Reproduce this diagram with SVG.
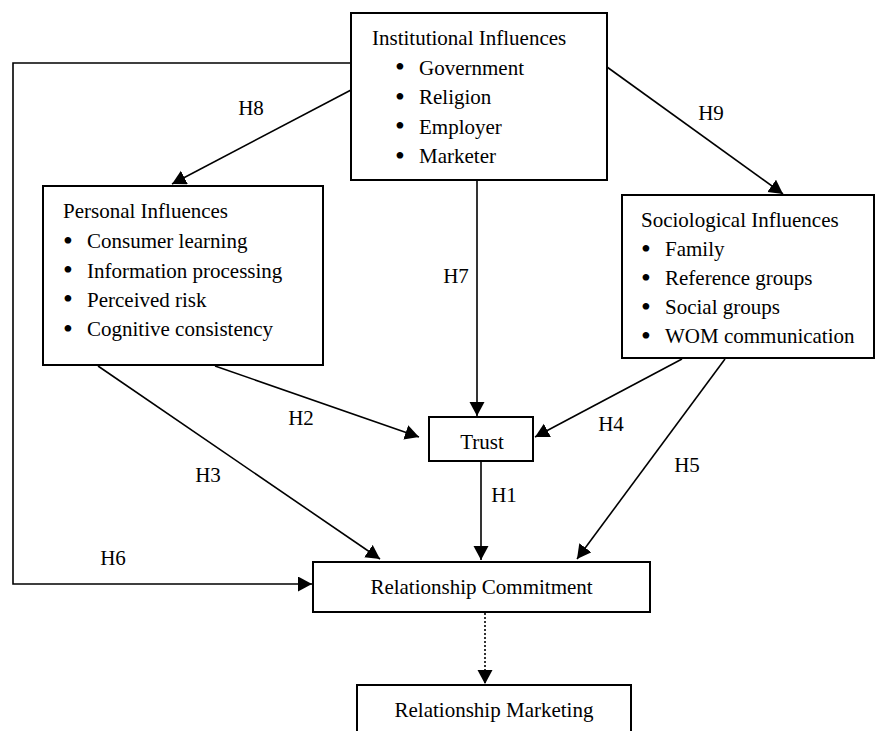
<svg xmlns="http://www.w3.org/2000/svg" width="876" height="731" viewBox="0 0 876 731">
<style>
.box{fill:#fff;stroke:#000;stroke-width:2}
.t{font-family:"Liberation Serif","Times New Roman",serif;font-size:21px;fill:#000}
.c{text-anchor:middle}
.b{font-family:"Liberation Serif","Times New Roman",serif;font-size:28px;fill:#000;text-anchor:middle}
.ln{fill:none;stroke:#000;stroke-width:1.6}
.dot{fill:none;stroke:#000;stroke-width:1.6;stroke-dasharray:2,2}
</style>
<defs>
<marker id="ah" markerUnits="userSpaceOnUse" markerWidth="16" markerHeight="16" refX="14" refY="7.5" orient="auto">
<path d="M0,0 L14,7.5 L0,15 z" fill="#000"/>
</marker>
</defs>
<rect width="876" height="731" fill="#fff"/>
<g id="connectors">
<polyline class="ln" points="351,63 13,63 13,584 312,584" marker-end="url(#ah)"/>
<line class="ln" x1="351" y1="90" x2="172" y2="184" marker-end="url(#ah)"/>
<line class="ln" x1="607" y1="67" x2="783" y2="194" marker-end="url(#ah)"/>
<line class="ln" x1="477" y1="180" x2="477" y2="416" marker-end="url(#ah)"/>
<line class="ln" x1="215" y1="366" x2="419" y2="437" marker-end="url(#ah)"/>
<line class="ln" x1="682" y1="359" x2="535" y2="437" marker-end="url(#ah)"/>
<line class="ln" x1="98" y1="366" x2="380" y2="559" marker-end="url(#ah)"/>
<line class="ln" x1="725" y1="359" x2="577" y2="559" marker-end="url(#ah)"/>
<line class="ln" x1="481" y1="462" x2="481" y2="560" marker-end="url(#ah)"/>
<line class="dot" x1="485" y1="613" x2="485" y2="684" marker-end="url(#ah)"/>
<text class="t c" x="251" y="115">H8</text>
<text class="t c" x="711" y="120">H9</text>
<text class="t c" x="456" y="283">H7</text>
<text class="t c" x="301" y="425">H2</text>
<text class="t c" x="611" y="431">H4</text>
<text class="t c" x="208" y="482">H3</text>
<text class="t c" x="687" y="472">H5</text>
<text class="t c" x="504" y="502">H1</text>
<text class="t c" x="113" y="565">H6</text>
</g>
<g id="institutional">
<rect class="box" x="351" y="13" width="256" height="167"/>
<text class="t" x="372" y="45">Institutional Influences</text>
<text class="b" x="400" y="76">•</text><text class="t" x="419" y="74.5">Government</text>
<text class="b" x="400" y="105.5">•</text><text class="t" x="419" y="104">Religion</text>
<text class="b" x="400" y="135">•</text><text class="t" x="419" y="133.5">Employer</text>
<text class="b" x="400" y="164.5">•</text><text class="t" x="419" y="163">Marketer</text>
</g>
<g id="personal">
<rect class="box" x="43" y="186" width="280" height="179"/>
<text class="t" x="63" y="218">Personal Influences</text>
<text class="b" x="68" y="249.5">•</text><text class="t" x="87" y="248">Consumer learning</text>
<text class="b" x="68" y="279">•</text><text class="t" x="87" y="277.5">Information processing</text>
<text class="b" x="68" y="308">•</text><text class="t" x="87" y="306.5">Perceived risk</text>
<text class="b" x="68" y="337.5">•</text><text class="t" x="87" y="336">Cognitive consistency</text>
</g>
<g id="sociological">
<rect class="box" x="622" y="195" width="252" height="163"/>
<text class="t" x="641" y="227">Sociological Influences</text>
<text class="b" x="646" y="257.5">•</text><text class="t" x="665" y="256">Family</text>
<text class="b" x="646" y="286.5">•</text><text class="t" x="665" y="285">Reference groups</text>
<text class="b" x="646" y="315.5">•</text><text class="t" x="665" y="314">Social groups</text>
<text class="b" x="646" y="344.5">•</text><text class="t" x="665" y="343">WOM communication</text>
</g>
<g id="trust">
<rect class="box" x="429" y="417" width="104" height="44"/>
<text class="t c" x="482" y="449">Trust</text>
</g>
<g id="commitment">
<rect class="box" x="313" y="562" width="337" height="50"/>
<text class="t c" x="481.5" y="594">Relationship Commitment</text>
</g>
<g id="marketing">
<rect class="box" x="357" y="685" width="274" height="60"/>
<text class="t c" x="494" y="717">Relationship Marketing</text>
</g>
</svg>
